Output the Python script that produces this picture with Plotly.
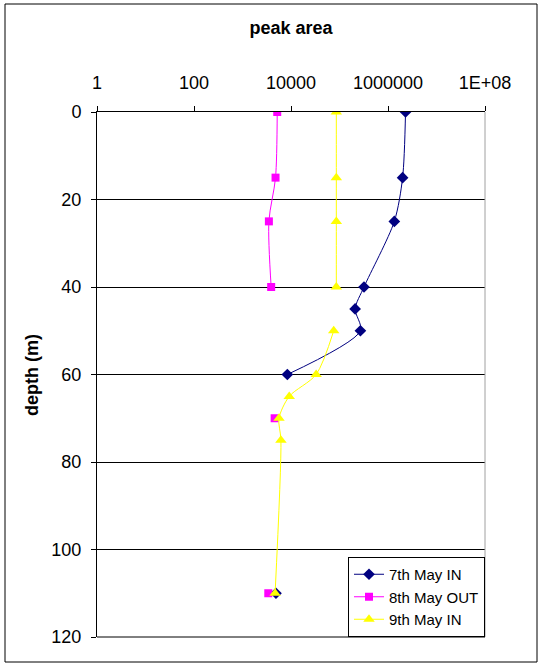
import plotly.graph_objects as go

depth = [0, 15, 25, 40, 45, 50, 60, 65, 70, 75, 110]
may7_in = [2.3e6, 2.0e6, 1.35e6, 3.2e5, 2.1e5, 2.7e5, 8400, None, None, None, 4900]
may8_out = [5200, 4800, 3500, 3900, None, None, None, None, 4600, None, 3400]
may9_in = [86000, 86000, 86000, 86000, None, 76000, 33000, 9200, 5650, 6200, 4700]

x_tickvals = [1, 100, 1e4, 1e6, 1e8]
x_ticktext = ["1", "100", "10000", "1000000", "1E+08"]
y_tickvals = [0, 20, 40, 60, 80, 100, 120]

L, R, T, B = 97, 485, 112, 637
W, H = 542, 667
pw, ph = R - L, B - T

def px(x):
    return (x - L) / pw

def py(y):
    return (B - y) / ph

fig = go.Figure()
fig.add_trace(go.Scatter(x=may7_in, y=depth, name="7th May IN", mode="lines+markers",
                         line=dict(color="#000080", width=1, shape="spline", smoothing=0.8),
                         marker=dict(symbol="diamond", size=9, color="#000080")))
fig.add_trace(go.Scatter(x=may8_out, y=depth, name="8th May OUT", mode="lines+markers",
                         line=dict(color="#FF00FF", width=1, shape="spline", smoothing=0.8),
                         marker=dict(symbol="square", size=8, color="#FF00FF")))
fig.add_trace(go.Scatter(x=may9_in, y=depth, name="9th May IN", mode="lines+markers",
                         line=dict(color="#FFFF00", width=1, shape="spline", smoothing=0.8),
                         marker=dict(symbol="triangle-up", size=10, color="#FFFF00")))

font_family = "Liberation Sans, Arial, sans-serif"

fig.update_layout(
    width=W, height=H,
    margin=dict(l=L, r=W - R, t=T, b=H - B, autoexpand=False),
    paper_bgcolor="white", plot_bgcolor="white",
    font=dict(family=font_family, size=18, color="black"),
    showlegend=True,
    legend=dict(x=1, y=0, xanchor="right", yanchor="bottom",
                bgcolor="white", bordercolor="black", borderwidth=1,
                font=dict(size=15), tracegroupgap=0, itemwidth=30),
    xaxis=dict(type="log", range=[0, 8], side="top",
               tickvals=x_tickvals, ticktext=x_ticktext,
               ticks="outside", ticklen=5, tickcolor="black",
               showline=True, linecolor="black", linewidth=1,
               showgrid=False, zeroline=False, ticklabelstandoff=10),
    yaxis=dict(range=[120, 0], tickvals=y_tickvals,
               ticks="outside", ticklen=5, tickcolor="black",
               showline=True, linecolor="black", linewidth=1,
               showgrid=True, gridcolor="black", gridwidth=1,
               zeroline=False, ticklabelstandoff=6),
    title=dict(text="<b>peak area</b>", x=px(291), xref="paper", xanchor="center",
               y=(H - 28) / H, yref="container", yanchor="middle",
               font=dict(size=18)),
    annotations=[dict(text="<b>depth (m)</b>", x=px(32), y=py(375), xref="paper", yref="paper",
                      showarrow=False, textangle=-90, xanchor="center", yanchor="middle",
                      font=dict(size=18))],
    shapes=[
        dict(type="line", xref="paper", yref="paper", x0=1, x1=1, y0=0, y1=1,
             line=dict(color="#A0A0A0", width=1)),
        dict(type="line", xref="paper", yref="paper", x0=0, x1=1, y0=0, y1=0,
             line=dict(color="black", width=1)),
        dict(type="rect", xref="paper", yref="paper",
             x0=px(5), x1=px(537), y0=py(662), y1=py(4),
             line=dict(color="black", width=1)),
    ],
)

fig.write_html("out.html", config={"displayModeBar": False},
               post_script="document.body.style.margin='0';document.body.style.overflow='hidden';")
